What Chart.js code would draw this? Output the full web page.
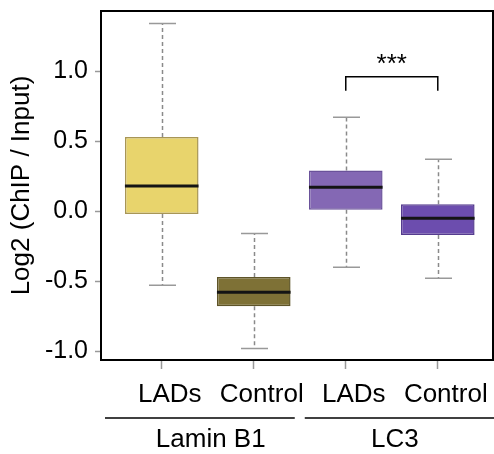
<!DOCTYPE html>
<html>
<head>
<meta charset="utf-8">
<script src="https://cdn.jsdelivr.net/npm/chart.js@4/dist/chart.umd.min.js"></script>
<style>
  html, body { margin: 0; padding: 0; background: #fff; }
  #wrap { width: 494px; height: 454px; }
</style>
</head>
<body>
<div id="wrap"><canvas id="boxChart" width="494" height="454"></canvas></div>
<script>
// categorias y posiciones en el eje x
const CATEGORIES = ["LADs", "Control", "LADs", "Control"];
const POSITIONS = [1, 2, 3, 4];
const GROUPS = ["Lamin B1", "LC3"];
const GROUP_MEMBERS = [[1, 2], [3, 4]];

// estadisticas de cada caja
const WHISKER_MIN = [-0.53, -0.98, -0.40, -0.48];
const Q1 = [-0.02, -0.68, 0.01, -0.17];
const MEDIAN = [0.18, -0.58, 0.17, -0.05];
const Q3 = [0.53, -0.47, 0.29, 0.05];
const WHISKER_MAX = [1.34, -0.16, 0.67, 0.37];

const Y_TICKS = [-1.0, -0.5, 0.0, 0.5, 1.0];

const FILLS = ["#e8d46c", "#7e7136", "#8468b4", "#6c4dae"];
const EDGES = ["#a89656", "#5e5428", "#6a529a", "#553c8e"];

const FONT = "'Liberation Sans', Arial, sans-serif";

const boxExtras = {
  id: "boxExtras",
  beforeDatasetsDraw(chart) {
    const { ctx } = chart;
    const xs = chart.scales.x;
    const ys = chart.scales.y;
    ctx.save();
    POSITIONS.forEach((p, i) => {
      const x = Math.round(xs.getPixelForValue(p)) + 0.5;
      // bigotes punteados
      ctx.strokeStyle = "#8a8a8a";
      ctx.lineWidth = 1.5;
      ctx.setLineDash([4, 3]);
      ctx.beginPath();
      ctx.moveTo(x, ys.getPixelForValue(Q3[i]));
      ctx.lineTo(x, ys.getPixelForValue(WHISKER_MAX[i]));
      ctx.moveTo(x, ys.getPixelForValue(Q1[i]));
      ctx.lineTo(x, ys.getPixelForValue(WHISKER_MIN[i]));
      ctx.stroke();
      // topes
      ctx.setLineDash([]);
      ctx.strokeStyle = "#999";
      ctx.beginPath();
      [WHISKER_MAX[i], WHISKER_MIN[i]].forEach(v => {
        const y = ys.getPixelForValue(v);
        ctx.moveTo(x - 13.5, y);
        ctx.lineTo(x + 13.5, y);
      });
      ctx.stroke();
    });
    ctx.restore();
  },
  afterDatasetsDraw(chart) {
    const { ctx, chartArea } = chart;
    const ys = chart.scales.y;
    const xs = chart.scales.x;
    const meta = chart.getDatasetMeta(0);
    ctx.save();
    // medianas
    ctx.strokeStyle = "#141414";
    ctx.lineWidth = 3;
    meta.data.forEach((bar, i) => {
      const { x, width } = bar.getProps(["x", "width"], true);
      const y = ys.getPixelForValue(MEDIAN[i]);
      ctx.beginPath();
      ctx.moveTo(x - width / 2, y);
      ctx.lineTo(x + width / 2, y);
      ctx.stroke();
    });

    // marco del area
    ctx.strokeStyle = "#000";
    ctx.lineWidth = 2;
    ctx.strokeRect(chartArea.left, chartArea.top, chartArea.right - chartArea.left, chartArea.bottom - chartArea.top);

    // corchete de significancia
    const sig = chart.options.plugins.boxExtras.significance;
    const x1 = xs.getPixelForValue(sig.from);
    const x2 = xs.getPixelForValue(sig.to);
    const yTop = ys.getPixelForValue(sig.y);
    const yDrop = ys.getPixelForValue(sig.drop);
    ctx.lineWidth = 1.5;
    ctx.beginPath();
    ctx.moveTo(x1, yDrop);
    ctx.lineTo(x1, yTop);
    ctx.lineTo(x2, yTop);
    ctx.lineTo(x2, yDrop);
    ctx.stroke();
    ctx.fillStyle = "#000";
    ctx.font = `26px ${FONT}`;
    ctx.textAlign = "center";
    ctx.textBaseline = "alphabetic";
    ctx.fillText(sig.label, (x1 + x2) / 2, ys.getPixelForValue(sig.textY));

    // grupos bajo el eje x
    const lineY = 418;
    GROUPS.forEach((g, gi) => {
      const members = GROUP_MEMBERS[gi];
      const first = members[0];
      const last = members[members.length - 1];
      let start = xs.getPixelForValue(first - 0.5) + 5;
      let end = xs.getPixelForValue(last + 0.5) - 5;
      if (gi === 0) start = chartArea.left + 4;
      if (gi === GROUPS.length - 1) end = chart.width;
      ctx.lineWidth = 1.5;
      ctx.beginPath();
      ctx.moveTo(start, lineY);
      ctx.lineTo(end, lineY);
      ctx.stroke();
      ctx.textBaseline = "middle";
      ctx.fillText(g, (xs.getPixelForValue(first) + xs.getPixelForValue(last)) / 2 + 3, 440);
    });
    ctx.restore();
  }
};

new Chart(document.getElementById("boxChart"), {
  type: "bar",
  data: {
    datasets: [{
      data: POSITIONS.map((p, i) => ({ x: p, y: [Q1[i], Q3[i]] })),
      backgroundColor: FILLS,
      borderColor: EDGES,
      borderWidth: 1.5,
      borderSkipped: false,
      categoryPercentage: 1,
      barPercentage: 0.8
    }]
  },
  options: {
    responsive: false,
    animation: false,
    layout: { padding: { top: 11, right: 1, bottom: 44, left: 0 } },
    plugins: {
      legend: { display: false },
      tooltip: { enabled: false },
      boxExtras: {
        significance: { from: 3, to: 4, y: 0.96, drop: 0.86, textY: 0.99, label: "***" }
      }
    },
    scales: {
      x: {
        type: "linear",
        min: 0.34,
        max: 4.6,
        offset: false,
        afterBuildTicks: scale => {
          scale.ticks = POSITIONS.map(v => ({ value: v }));
        },
        afterFit: scale => {
          scale.height = 50;
          scale.paddingLeft = 0;
          scale.paddingRight = 0;
        },
        border: { display: false },
        grid: {
          offset: false,
          drawOnChartArea: false,
          drawTicks: true,
          tickLength: 9,
          tickColor: "#999",
          tickWidth: 1.5
        },
        ticks: {
          callback: (value, index) => CATEGORIES[index],
          font: { family: FONT, size: 26 },
          color: "#000",
          padding: 10,
          labelOffset: 8,
          maxRotation: 0,
          autoSkip: false
        }
      },
      y: {
        min: -1.063,
        max: 1.429,
        afterBuildTicks: scale => {
          scale.ticks = Y_TICKS.map(v => ({ value: v }));
        },
        afterFit: scale => {
          scale.width = 101;
          scale.paddingTop = 0;
          scale.paddingBottom = 0;
        },
        border: { display: false },
        grid: {
          drawOnChartArea: false,
          drawTicks: true,
          tickLength: 6,
          tickColor: "#999",
          tickWidth: 1.5
        },
        ticks: {
          callback: v => v.toFixed(1),
          font: { family: FONT, size: 25 },
          color: "#000",
          padding: 7
        },
        title: {
          display: true,
          text: "Log2 (ChIP / Input)",
          font: { family: FONT, size: 26 },
          color: "#000",
          padding: { top: 6, bottom: 0 }
        }
      }
    }
  },
  plugins: [boxExtras]
});
</script>
</body>
</html>
